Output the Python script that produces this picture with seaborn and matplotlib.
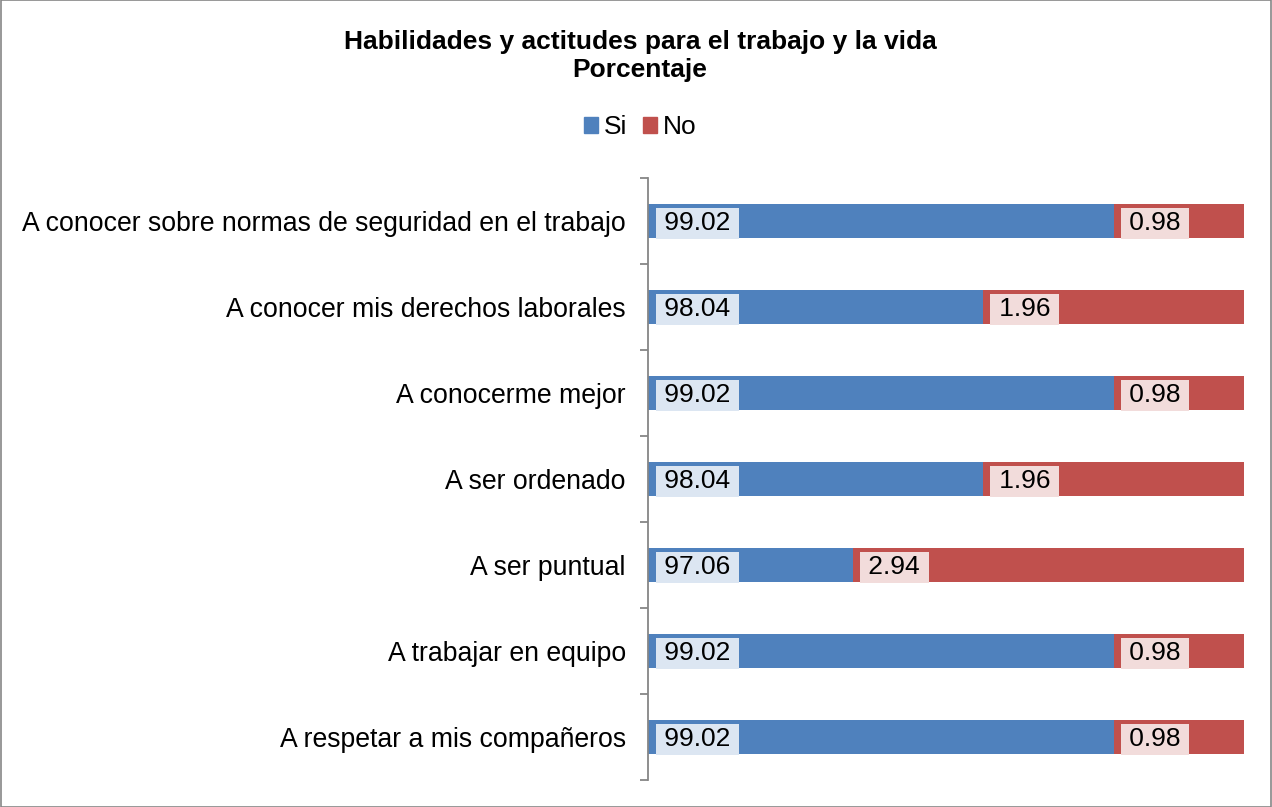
import matplotlib
matplotlib.use('Agg')
import matplotlib.pyplot as plt
import seaborn as sns
import pandas as pd
from matplotlib.patches import Rectangle, Patch

categories = [
    'A conocer sobre normas de seguridad en el trabajo',
    'A conocer mis derechos laborales',
    'A conocerme mejor',
    'A ser ordenado',
    'A ser puntual',
    'A trabajar en equipo',
    'A respetar a mis compañeros',
]
si_values = [99.02, 98.04, 99.02, 98.04, 97.06, 99.02, 99.02]
no_values = [0.98, 1.96, 0.98, 1.96, 2.94, 0.98, 0.98]

BLUE = '#4F81BD'
RED = '#C0504D'

sns.set_style('white')
plt.rcParams['font.family'] = ['Liberation Sans', 'DejaVu Sans']
plt.rcParams['text.color'] = 'black'

df = pd.DataFrame({'cat': categories, 'Si': si_values, 'No': no_values})
df['total'] = df['Si'] + df['No']

fig = plt.figure(figsize=(12.72, 8.07), dpi=100)
ax = fig.add_axes([648 / 1272, 1 - 780 / 807, (1244 - 648) / 1272, (780 - 178) / 807])

# stacked: draw total (red) first, then Si on top
sns.barplot(data=df, y='cat', x='total', color=RED, orient='h', width=0.4,
            ax=ax, saturation=1, linewidth=0)
sns.barplot(data=df, y='cat', x='Si', color=BLUE, orient='h', width=0.4,
            ax=ax, saturation=1, linewidth=0)

xmin = 95.52
ax.set_xlim(xmin, 100)
ax.set_ylim(len(categories) - 0.5, -0.5)

sp_ = '\u2009'
for i, (s, n) in enumerate(zip(si_values, no_values)):
    ax.annotate(f'{sp_}{s:.2f}{sp_}', xy=(xmin, i), xytext=(8, 0), textcoords='offset points',
                ha='left', va='center_baseline', fontsize=19, color='black',
                bbox=dict(boxstyle='square,pad=0.13', fc='#DCE6F2', ec='none', lw=0))
    ax.annotate(f'{sp_}{n:.2f}{sp_}', xy=(s, i), xytext=(7.5, 0), textcoords='offset points',
                ha='left', va='center_baseline', fontsize=19, color='black',
                bbox=dict(boxstyle='square,pad=0.13', fc='#F2DCDB', ec='none', lw=0))

ax.set_xlabel('')
ax.set_ylabel('')
ax.set_xticks([])
ax.set_yticks(range(len(categories)))
ax.set_yticklabels(categories, fontsize=19.2, color='black')
ax.tick_params(axis='y', which='major', length=0, pad=16)
for sp in ['top', 'right', 'bottom']:
    ax.spines[sp].set_visible(False)
ax.spines['left'].set_color('#868686')
ax.spines['left'].set_linewidth(1.3)

# category boundary tick marks
ax.set_yticks([i - 0.5 for i in range(len(categories) + 1)], minor=True)
ax.tick_params(axis='y', which='minor', left=True, length=6, width=1.3,
               color='#868686', direction='out')

fig.text(640 / 1272, 1 - 42 / 807, 'Habilidades y actitudes para el trabajo y la vida',
         ha='center', va='center', fontsize=19, fontweight='bold', color='black')
fig.text(640 / 1272, 1 - 70 / 807, 'Porcentaje',
         ha='center', va='center', fontsize=19, fontweight='bold', color='black')

handles = [Patch(color=BLUE, label='Si'), Patch(color=RED, label='No')]
fig.legend(handles=handles, loc='center', bbox_to_anchor=(640 / 1272, 1 - 127 / 807),
           ncol=2, frameon=False, fontsize=19, handlelength=0.55, handleheight=0.55,
           handletextpad=0.2, columnspacing=0.6, labelcolor='black')

fig.patches.append(Rectangle((0.0005, 0.0005), 0.999, 0.999, transform=fig.transFigure,
                             fill=False, ec='#868686', lw=1.2))

fig.savefig('out.png', dpi=100)
